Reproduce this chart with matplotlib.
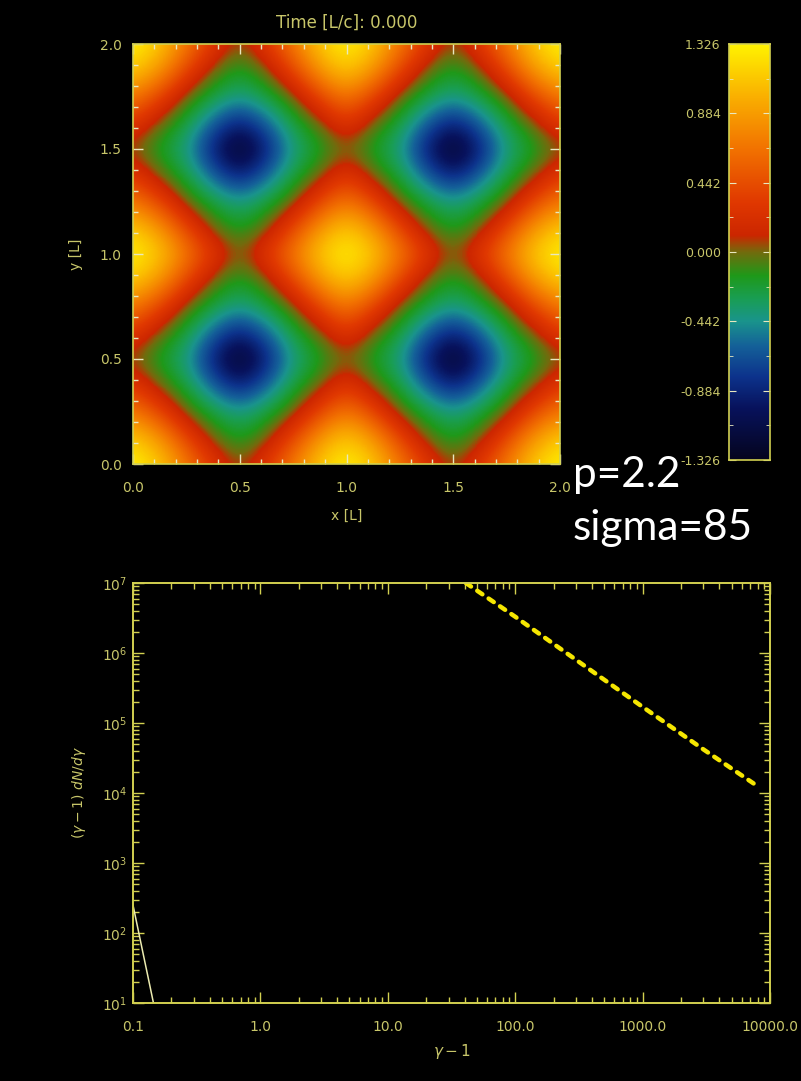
import numpy as np
import matplotlib
matplotlib.use("Agg")
import matplotlib.pyplot as plt
from matplotlib.colors import LinearSegmentedColormap
from matplotlib.ticker import FixedLocator, MultipleLocator, LogLocator, NullFormatter, FixedFormatter

# ---------------- data ----------------
# field values read over one cell (x, y = 0, 0.125, 0.25, 0.375, 0.5 from a maximum
# toward a minimum); the pattern repeats with period 1 L in x and y
cell_coords = [0.0, 0.125, 0.25, 0.375, 0.5]
cell_values = [
    [1.326, 1.12, 0.70, 0.32, 0.00],
    [1.12, 0.85, 0.40, 0.00, -0.20],
    [0.70, 0.40, 0.00, -0.25, -0.40],
    [0.32, 0.00, -0.25, -0.60, -0.92],
    [0.00, -0.20, -0.40, -0.92, -1.326],
]
grid_coords = [0.0, 0.125, 0.25, 0.375, 0.5, 0.625, 0.75, 0.875, 1.0,
               1.125, 1.25, 1.375, 1.5, 1.625, 1.75, 1.875, 2.0]
cell_index = [0, 1, 2, 3, 4, 3, 2, 1, 0, 1, 2, 3, 4, 3, 2, 1, 0]

cbar_ticks = [-1.326, -0.884, -0.442, 0.0, 0.442, 0.884, 1.326]
cbar_labels = ["-1.326", "-0.884", "-0.442", "0.000", "0.442", "0.884", "1.326"]
xy_ticks = [0.0, 0.5, 1.0, 1.5, 2.0]
xy_labels = ["0.0", "0.5", "1.0", "1.5", "2.0"]

power_gamma = [41.0, 100.0, 300.0, 1000.0, 3000.0, 8000.0]
power_dnd = [1.0e7, 3.3e6, 8.0e5, 1.7e5, 4.2e4, 1.25e4]
thermal_gamma = [0.1, 0.11, 0.12, 0.13, 0.14, 0.15]
thermal_dnd = [250.0, 109.0, 51.0, 25.5, 13.4, 7.3]
gx_ticks = [0.1, 1.0, 10.0, 100.0, 1000.0, 10000.0]
gx_labels = ["0.1", "1.0", "10.0", "100.0", "1000.0", "10000.0"]

# ---------------- style ----------------
TXT = "#c8c66a"
SPN = "#d2d050"
plt.rcParams["font.family"] = ["DejaVu Sans"]
plt.rcParams["mathtext.fontset"] = "dejavusans"

cmap = LinearSegmentedColormap.from_list("idl", [
    (0.000, (0.02, 0.02, 0.12)),
    (0.123, (0.03, 0.07, 0.36)),
    (0.200, (0.05, 0.20, 0.55)),
    (0.274, (0.08, 0.38, 0.60)),
    (0.333, (0.10, 0.58, 0.55)),
    (0.387, (0.10, 0.62, 0.33)),
    (0.443, (0.12, 0.60, 0.10)),
    (0.500, (0.45, 0.42, 0.05)),
    (0.540, (0.80, 0.15, 0.00)),
    (0.620, (0.88, 0.22, 0.00)),
    (0.750, (0.95, 0.45, 0.00)),
    (0.870, (0.98, 0.68, 0.00)),
    (1.000, (1.00, 0.95, 0.00)),
])

fig = plt.figure(figsize=(8.01, 10.81), dpi=100, facecolor="black")
W, H = 801.0, 1081.0

def rect(l, t, r, b):
    return [l / W, 1 - b / H, (r - l) / W, (b - t) / H]

# ---------------- heatmap ----------------
ax1 = fig.add_axes(rect(133, 44, 560, 464))
cells = np.array(cell_values)
idx = np.array(cell_index)
field = cells[np.ix_(idx, idx)]
step = grid_coords[1] - grid_coords[0]
ax1.imshow(field, origin="lower", cmap=cmap, vmin=cbar_ticks[0], vmax=cbar_ticks[-1],
           interpolation="bicubic", aspect="auto",
           extent=[grid_coords[0] - step / 2, grid_coords[-1] + step / 2,
                   grid_coords[0] - step / 2, grid_coords[-1] + step / 2])
ax1.set_xlim(0, 2)
ax1.set_ylim(0, 2)
ax1.set_facecolor("black")
ax1.xaxis.set_major_locator(FixedLocator(xy_ticks))
ax1.xaxis.set_major_formatter(FixedFormatter(xy_labels))
ax1.yaxis.set_major_locator(FixedLocator(xy_ticks))
ax1.yaxis.set_major_formatter(FixedFormatter(xy_labels))
ax1.xaxis.set_minor_locator(MultipleLocator(0.1))
ax1.yaxis.set_minor_locator(MultipleLocator(0.1))
ax1.tick_params(which="both", direction="in", top=True, right=True, color="#e8e8c0",
                labelcolor=TXT, labelsize=10)
ax1.tick_params(which="major", length=7, width=1)
ax1.tick_params(which="minor", length=3.5, width=1)
ax1.tick_params(axis="x", pad=12)
ax1.tick_params(axis="y", pad=8)
for s in ax1.spines.values():
    s.set_color(SPN)
    s.set_linewidth(1.2)
ax1.set_xlabel("x [L]", color=TXT, fontsize=10, labelpad=10)
ax1.set_ylabel("y [L]", color=TXT, fontsize=10, labelpad=12)
ax1.set_title("Time [L/c]: 0.000", color=TXT, fontsize=12, pad=12)

# ---------------- colorbar ----------------
cax = fig.add_axes(rect(729, 44, 770, 460))
cvals = np.linspace(cbar_ticks[0], cbar_ticks[-1], 256).reshape(-1, 1)
cax.imshow(cvals, origin="lower", cmap=cmap, aspect="auto",
           extent=[0, 1, cbar_ticks[0], cbar_ticks[-1]])
cax.set_xlim(0, 1)
cax.set_ylim(cbar_ticks[0], cbar_ticks[-1])
cax.set_xticks([])
cax.yaxis.set_major_locator(FixedLocator(cbar_ticks))
cax.yaxis.set_major_formatter(FixedFormatter(cbar_labels))
cax.yaxis.set_minor_locator(MultipleLocator(0.221))
cax.yaxis.set_minor_formatter(NullFormatter())
cax.tick_params(which="both", direction="in", left=True, right=True, labelleft=True,
                labelright=False, color="#e8e8c0", labelcolor=TXT, labelsize=9, pad=6)
cax.tick_params(which="major", length=5)
cax.tick_params(which="minor", length=3)
for s in cax.spines.values():
    s.set_color(SPN)
    s.set_linewidth(1.2)

# ---------------- spectrum ----------------
ax2 = fig.add_axes(rect(133, 583, 770, 1003))
ax2.set_facecolor("black")
ax2.set_xscale("log")
ax2.set_yscale("log")
ax2.plot(power_gamma, power_dnd, color="#f5e600", lw=3.2, linestyle=(0, (1.4, 1.7)),
         dash_capstyle="round")
ax2.plot(thermal_gamma, thermal_dnd, color="#ecebb0", lw=1.1)
ax2.set_xlim(0.1, 10000.0)
ax2.set_ylim(10.0, 1.0e7)
ax2.xaxis.set_major_locator(FixedLocator(gx_ticks))
ax2.xaxis.set_major_formatter(FixedFormatter(gx_labels))
ax2.xaxis.set_minor_locator(LogLocator(base=10, subs=np.arange(2, 10), numticks=20))
ax2.xaxis.set_minor_formatter(NullFormatter())
ax2.yaxis.set_major_locator(LogLocator(base=10, numticks=20))
ax2.yaxis.set_minor_locator(LogLocator(base=10, subs=np.arange(2, 10), numticks=20))
ax2.yaxis.set_minor_formatter(NullFormatter())
ax2.tick_params(which="both", direction="in", top=True, right=True, color=SPN,
                labelcolor=TXT, labelsize=10)
ax2.tick_params(which="major", length=8, width=1)
ax2.tick_params(which="minor", length=4, width=1)
ax2.tick_params(axis="x", pad=12)
ax2.tick_params(axis="y", pad=4)
for s in ax2.spines.values():
    s.set_color(SPN)
    s.set_linewidth(1.4)
ax2.set_xlabel(r"$\gamma-1$", color=TXT, fontsize=11, labelpad=6)
ax2.set_ylabel(r"$(\gamma-1)\ dN/d\gamma$", color=TXT, fontsize=10, labelpad=10)

# ---------------- annotations ----------------
fig.text(573 / W, 1 - 487 / H, "p=2.2", color="white", fontsize=30.5, family=["Lato", "DejaVu Sans"],
         ha="left", va="baseline")
fig.text(573 / W, 1 - 540 / H, "sigma=85", color="white", fontsize=30.5, family=["Lato", "DejaVu Sans"],
         ha="left", va="baseline")

fig.savefig("out.png", dpi=100, facecolor="black")
